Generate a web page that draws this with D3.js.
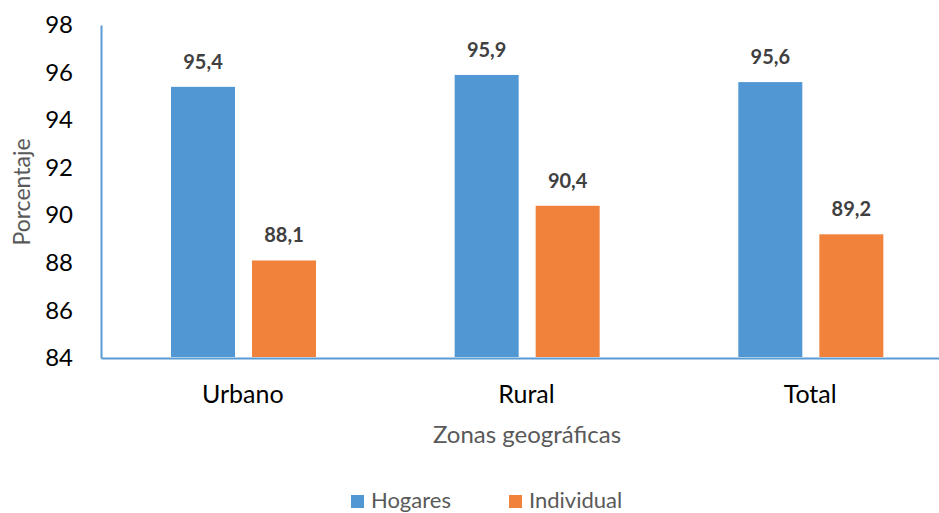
<!DOCTYPE html>
<html>
<head>
<meta charset="utf-8">
<script src="https://cdn.jsdelivr.net/npm/d3@7"></script>
<style>
  html, body { margin: 0; padding: 0; background: #fff; }
  svg { display: block; }
</style>
</head>
<body>
<svg id="chart" width="939" height="513"></svg>
<script>
const categories = ["Urbano", "Rural", "Total"];
const seriesNames = ["Hogares", "Individual"];
const hogares = [95.4, 95.9, 95.6];
const individual = [88.1, 90.4, 89.2];
const yTicks = [84, 86, 88, 90, 92, 94, 96, 98];
const colors = ["#5097D3", "#F0823C"];

const fmt = v => v.toFixed(1).replace(".", ",");
const font = "Lato, 'Open Sans', sans-serif";

const svg = d3.select("#chart");
const plotLeft = 101, plotRight = 952, plotTop = 25, plotBottom = 358;

const x = d3.scaleBand().domain(categories).range([plotLeft, plotRight]);
const y = d3.scaleLinear().domain([84, 98]).range([plotBottom, plotTop]);
const inner = d3.scaleBand().domain(seriesNames).range([70, 215]).paddingInner(0.21);

// Y axis
const yAxis = svg.append("g")
  .attr("transform", `translate(${plotLeft},0)`)
  .call(d3.axisLeft(y).tickValues(yTicks).tickSize(0).tickPadding(28).tickFormat(d3.format("d")));
yAxis.select(".domain").attr("stroke", "#5B9BD5").attr("stroke-width", 2);
yAxis.selectAll("text").attr("font-family", font).attr("font-size", 24).attr("fill", "#000");

// X axis
const xAxis = svg.append("g")
  .attr("transform", `translate(0,${plotBottom})`)
  .call(d3.axisBottom(x).tickSize(0).tickPadding(27));
xAxis.select(".domain").attr("stroke", "#5B9BD5").attr("stroke-width", 2);
xAxis.selectAll("text").attr("font-family", font).attr("font-size", 25).attr("fill", "#000");

const data = categories.map((c, i) => ({ cat: c, vals: [hogares[i], individual[i]] }));

const groups = svg.append("g").selectAll("g").data(data).join("g")
  .attr("transform", d => `translate(${x(d.cat)},0)`);

groups.selectAll("rect").data(d => d.vals.map((v, j) => ({ v, s: seriesNames[j], j })))
  .join("rect")
  .attr("x", d => inner(d.s))
  .attr("width", inner.bandwidth())
  .attr("y", d => y(d.v))
  .attr("height", d => plotBottom - 1 - y(d.v))
  .attr("fill", d => colors[d.j]);

groups.selectAll("text.lbl").data(d => d.vals.map((v, j) => ({ v, s: seriesNames[j], j })))
  .join("text")
  .attr("class", "lbl")
  .attr("x", d => inner(d.s) + inner.bandwidth() / 2)
  .attr("y", d => y(d.v) - 18)
  .attr("text-anchor", "middle")
  .attr("font-family", font)
  .attr("font-weight", "bold")
  .attr("font-size", 20)
  .attr("fill", "#404040")
  .text(d => fmt(d.v));

// Axis titles
svg.append("text")
  .attr("transform", "translate(30,192) rotate(-90)")
  .attr("text-anchor", "middle")
  .attr("font-family", font)
  .attr("font-size", 23)
  .attr("fill", "#595959")
  .text("Porcentaje");

svg.append("text")
  .attr("x", 527).attr("y", 443)
  .attr("text-anchor", "middle")
  .attr("font-family", font)
  .attr("font-size", 24)
  .attr("fill", "#595959")
  .text("Zonas geográficas");

// Legend
const legendX = [351, 509];
const legend = svg.append("g").selectAll("g").data(seriesNames).join("g")
  .attr("transform", (d, i) => `translate(${legendX[i]},495)`);
legend.append("rect").attr("width", 13).attr("height", 13).attr("fill", (d, i) => colors[i]);
legend.append("text")
  .attr("x", 20).attr("y", 13)
  .attr("font-family", font)
  .attr("font-size", 22)
  .attr("fill", "#595959")
  .text(d => d);
</script>
</body>
</html>
